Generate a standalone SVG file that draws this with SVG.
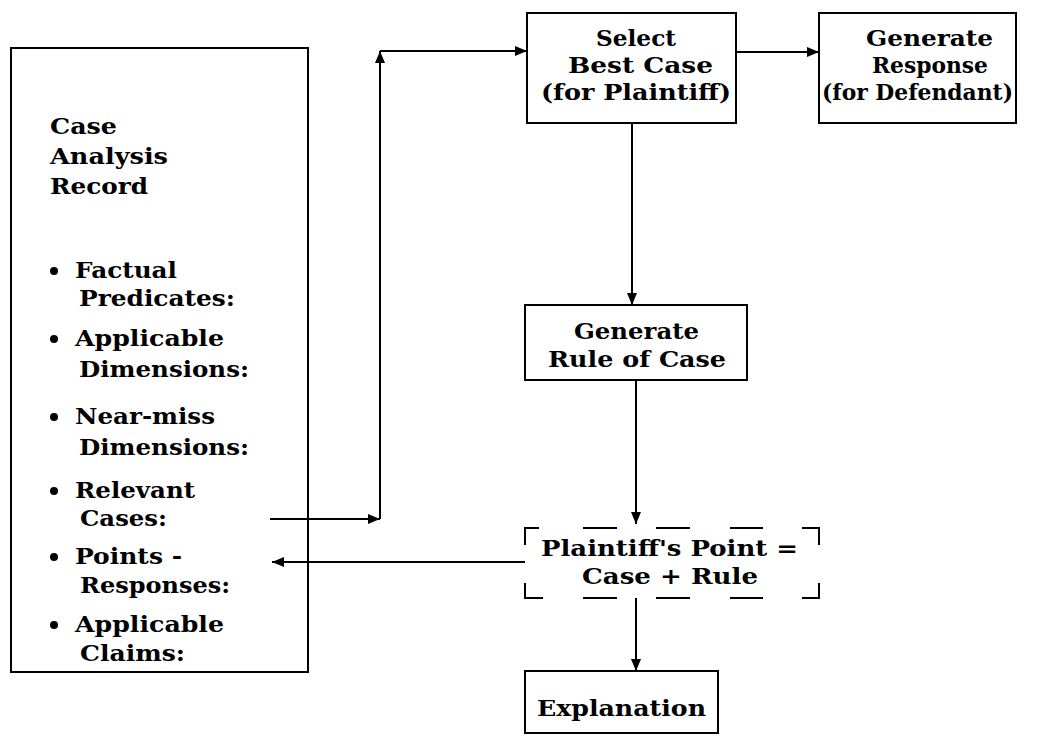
<svg xmlns="http://www.w3.org/2000/svg" width="1054" height="743" viewBox="0 0 1054 743">
  <style>
    .box { fill: #fff; stroke: #000; stroke-width: 2; }
    .t { font-family: "DejaVu Serif", "Liberation Serif", serif; font-weight: bold; font-size: 23px; fill: #000; }
    .c { fill: none; stroke: #000; stroke-width: 2; }
    .dash { fill: none; stroke: #000; stroke-width: 2; }
  </style>
  <defs>
    <marker id="arr" viewBox="0 0 12 10" refX="12" refY="5" markerWidth="12" markerHeight="10" markerUnits="userSpaceOnUse" orient="auto">
      <path d="M0,0 L12,5 L0,10 z" fill="#000"/>
    </marker>
  </defs>
  <rect width="1054" height="743" fill="#fff"/>

  <!-- Case analysis record -->
  <g id="record">
    <rect class="box" x="11" y="48" width="297" height="624"/>
    <text class="t" x="50" y="134" textLength="67" lengthAdjust="spacingAndGlyphs">Case</text>
    <text class="t" x="50" y="164" textLength="118" lengthAdjust="spacingAndGlyphs">Analysis</text>
    <text class="t" x="50" y="194" textLength="98" lengthAdjust="spacingAndGlyphs">Record</text>
    <g>
      <circle cx="54" cy="271" r="4"/>
      <text class="t" x="75" y="278" textLength="102" lengthAdjust="spacingAndGlyphs">Factual</text>
      <text class="t" x="79" y="306" textLength="156" lengthAdjust="spacingAndGlyphs">Predicates:</text>
      <circle cx="54" cy="339" r="4"/>
      <text class="t" x="75" y="346" textLength="149" lengthAdjust="spacingAndGlyphs">Applicable</text>
      <text class="t" x="79" y="377" textLength="170" lengthAdjust="spacingAndGlyphs">Dimensions:</text>
      <circle cx="54" cy="417" r="4"/>
      <text class="t" x="75" y="424" textLength="140" lengthAdjust="spacingAndGlyphs">Near-miss</text>
      <text class="t" x="79" y="455" textLength="170" lengthAdjust="spacingAndGlyphs">Dimensions:</text>
      <circle cx="54" cy="491" r="4"/>
      <text class="t" x="75" y="498" textLength="120" lengthAdjust="spacingAndGlyphs">Relevant</text>
      <text class="t" x="80" y="526" textLength="87" lengthAdjust="spacingAndGlyphs">Cases:</text>
      <circle cx="54" cy="557" r="4"/>
      <text class="t" x="75" y="564" textLength="107" lengthAdjust="spacingAndGlyphs">Points -</text>
      <text class="t" x="80" y="593" textLength="150" lengthAdjust="spacingAndGlyphs">Responses:</text>
      <circle cx="54" cy="625" r="4"/>
      <text class="t" x="75" y="632" textLength="149" lengthAdjust="spacingAndGlyphs">Applicable</text>
      <text class="t" x="80" y="661" textLength="105" lengthAdjust="spacingAndGlyphs">Claims:</text>
    </g>
  </g>

  <!-- Select best case -->
  <g id="select">
    <rect class="box" x="527" y="13" width="209" height="110"/>
    <text class="t" x="596" y="46" textLength="80" lengthAdjust="spacingAndGlyphs">Select</text>
    <text class="t" x="568" y="73" textLength="145" lengthAdjust="spacingAndGlyphs">Best Case</text>
    <text class="t" x="541" y="100" textLength="190" lengthAdjust="spacingAndGlyphs">(for Plaintiff)</text>
  </g>

  <!-- Generate response -->
  <g id="response">
    <rect class="box" x="819" y="13" width="197" height="110"/>
    <text class="t" x="866" y="46" textLength="127" lengthAdjust="spacingAndGlyphs">Generate</text>
    <text class="t" x="872" y="73" textLength="116" lengthAdjust="spacingAndGlyphs">Response</text>
    <text class="t" x="822" y="100" textLength="191" lengthAdjust="spacingAndGlyphs">(for Defendant)</text>
  </g>

  <!-- Generate rule of case -->
  <g id="rule">
    <rect class="box" x="525" y="305" width="222" height="75"/>
    <text class="t" x="574" y="339" textLength="125" lengthAdjust="spacingAndGlyphs">Generate</text>
    <text class="t" x="548" y="367" textLength="178" lengthAdjust="spacingAndGlyphs">Rule of Case</text>
  </g>

  <!-- Plaintiff's point (dashed frame) -->
  <g id="point">
    <path class="dash" d="M525,545 V528 H539 M583,528 H617 M656,528 H690 M730,528 H763 M802,528 H819 V545"/>
    <path class="dash" d="M525,583 V598 H543 M583,598 H617 M656,598 H690 M730,598 H763 M802,598 H819 V583"/>
    <text class="t" x="541" y="556" textLength="257" lengthAdjust="spacingAndGlyphs">Plaintiff's Point =</text>
    <text class="t" x="582" y="584" textLength="176" lengthAdjust="spacingAndGlyphs">Case + Rule</text>
  </g>

  <!-- Explanation -->
  <g id="explanation">
    <rect class="box" x="525" y="671" width="193" height="62"/>
    <text class="t" x="537" y="716" textLength="169" lengthAdjust="spacingAndGlyphs">Explanation</text>
  </g>

  <!-- Connectors -->
  <g id="connectors">
    <path class="c" d="M270,519 H380" marker-end="url(#arr)"/>
    <path class="c" d="M380,519 V51" marker-end="url(#arr)"/>
    <path class="c" d="M380,51 H527" marker-end="url(#arr)"/>
    <path class="c" d="M736,52 H819" marker-end="url(#arr)"/>
    <path class="c" d="M632,123 V305" marker-end="url(#arr)"/>
    <path class="c" d="M636,380 V524" marker-end="url(#arr)"/>
    <path class="c" d="M525,562 H272" marker-end="url(#arr)"/>
    <path class="c" d="M636,598 V671" marker-end="url(#arr)"/>
  </g>
</svg>
